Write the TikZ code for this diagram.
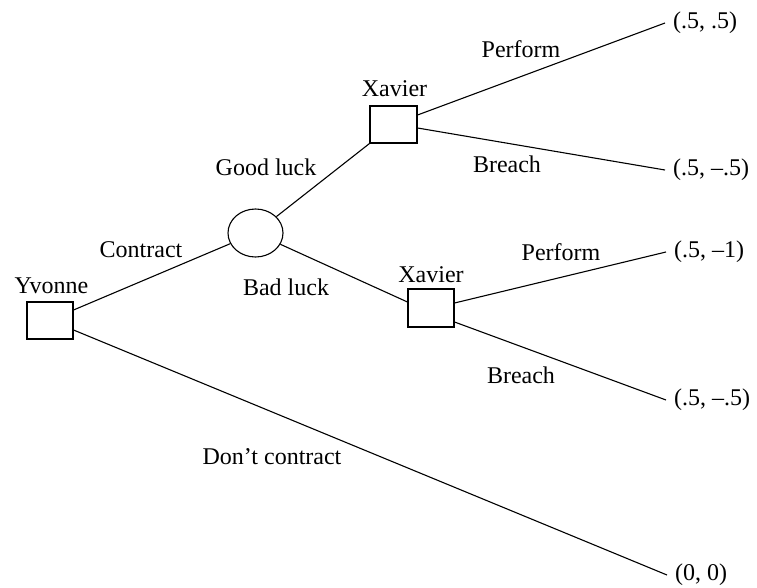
\documentclass[tikz,border=0pt]{standalone}
\usepackage{fontspec}
\setmainfont{Liberation Serif}
\usetikzlibrary{shapes.geometric}
\begin{document}
\begin{tikzpicture}[x=1pt,y=-1pt,
  every node/.style={font=\fontsize{24}{28}\selectfont},
  decbox/.style={draw,line width=1.1pt,rectangle,inner sep=0pt,minimum width=46pt,minimum height=37pt},
  chance/.style={draw,line width=1.1pt,ellipse,inner sep=0pt,minimum width=55pt,minimum height=48pt},
  lbl/.style={anchor=base,inner sep=0pt},
  payoff/.style={anchor=west,inner xsep=8pt,inner ysep=0pt},
  branch/.style={line width=1.1pt}]
\useasboundingbox (0,0) rectangle (757,588);
% decision and chance nodes
\node[decbox] (Y) at (50,320.5) {};
\node[chance] (E) at (255.5,233) {};
\node[decbox,minimum width=47pt] (X1) at (393.5,124.5) {};
\node[decbox,minimum height=38pt] (X2) at (431,308) {};
% payoffs
\node[payoff] (P1) at (665,23) {(.5, .5)};
\node[payoff] (P2) at (665,170) {(.5, --.5)};
\node[payoff] (P3) at (666,252) {(.5, --1)};
\node[payoff] (P4) at (666,400) {(.5, --.5)};
\node[payoff] (P5) at (667,575) {(0, 0)};
% labels
\node[lbl] (lY) at (51.5,293) {Yvonne};
\node[lbl] (lX1) at (394.5,97) {Xavier};
\node[lbl] (lX2) at (431,282) {Xavier};
\node[lbl] (lC) at (141,257) {Contract};
\node[lbl] (lG) at (266,176) {Good luck};
\node[lbl] (lB) at (286,295) {Bad luck};
\node[lbl] (lP1) at (521,58) {Perform};
\node[lbl] (lB1) at (507,173) {Breach};
\node[lbl] (lP2) at (561,260) {Perform};
\node[lbl] (lB2) at (521,383) {Breach};
\node[lbl] (lD) at (272,464) {Don’t contract};
% branches
\draw[branch] ([yshift=10.5pt]Y.east) -- (E);
\draw[branch] ([yshift=-9.5pt]Y.east) -- (P5.west);
\draw[branch] (E) -- (X1.south west);
\draw[branch] (E) -- ([yshift=6pt]X2.west);
\draw[branch] ([yshift=9.5pt]X1.east) -- (P1.west);
\draw[branch] ([yshift=-3.5pt]X1.east) -- (P2.west);
\draw[branch] ([yshift=5pt]X2.east) -- (P3.west);
\draw[branch] ([yshift=-14pt]X2.east) -- (P4.west);
\end{tikzpicture}
\end{document}
